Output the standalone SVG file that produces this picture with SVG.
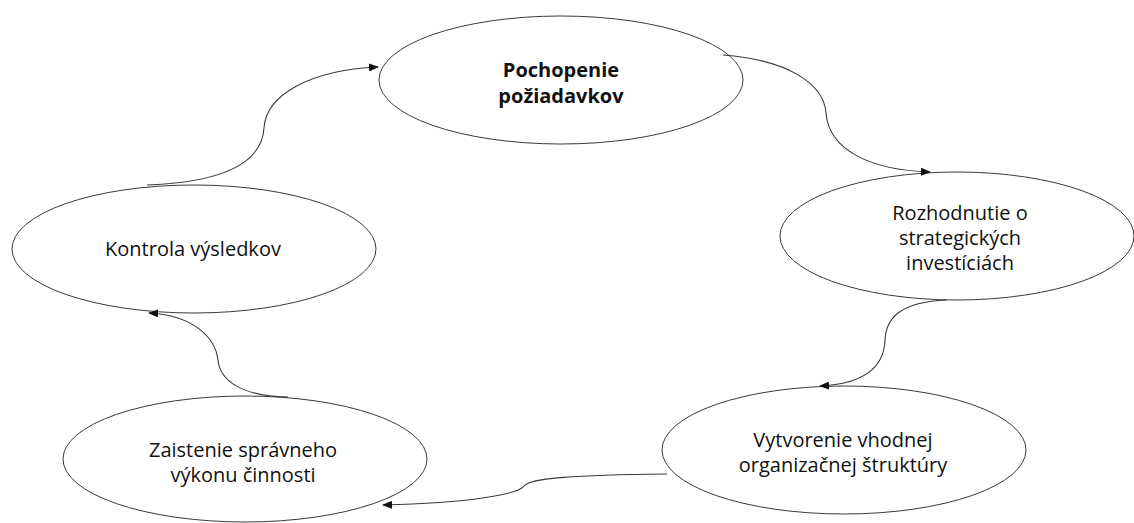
<svg xmlns="http://www.w3.org/2000/svg" width="1134" height="523" viewBox="0 0 1134 523">
<style>
.node ellipse{fill:#fff;stroke:#3a3a3a;stroke-width:1}
.node text{font-family:"Open Sans","Liberation Sans",sans-serif;font-size:20px;fill:#111;text-anchor:middle}
.node text.b{font-weight:bold}
#connectors path{fill:none;stroke:#3a3a3a;stroke-width:1.1;marker-end:url(#arr)}
</style>
<defs>
<marker id="arr" markerUnits="userSpaceOnUse" markerWidth="10" markerHeight="8" refX="9" refY="4" orient="auto">
<path d="M0,0 L10,4 L0,8 Z" fill="#111"/>
</marker>
</defs>
<rect width="1134" height="523" fill="#fff"/>
<g id="n1" class="node">
<ellipse cx="561" cy="80" rx="182" ry="64"/>
<text class="b" x="561" y="77">Pochopenie</text>
<text class="b" x="561" y="103">požiadavkov</text>
</g>
<g id="n2" class="node">
<ellipse cx="957" cy="236" rx="177" ry="64"/>
<text x="960" y="220">Rozhodnutie o</text>
<text x="960" y="245">strategických</text>
<text x="960" y="270">investíciách</text>
</g>
<g id="n3" class="node">
<ellipse cx="844" cy="450" rx="182" ry="64"/>
<text x="843" y="447">Vytvorenie vhodnej</text>
<text x="843" y="472">organizačnej štruktúry</text>
</g>
<g id="n4" class="node">
<ellipse cx="245" cy="459" rx="182" ry="63"/>
<text x="243" y="457">Zaistenie správneho</text>
<text x="243" y="482">výkonu činnosti</text>
</g>
<g id="n5" class="node">
<ellipse cx="194" cy="249" rx="182" ry="64"/>
<text x="193" y="256">Kontrola výsledkov</text>
</g>
<g id="connectors">
<path d="M147,185 C230,182 262,160 264,128 C266,95 310,70 378,67"/>
<path d="M723,55 C790,60 824,85 826,113 C829,150 870,170 930,172"/>
<path d="M947,300 C900,302 886,318 885,340 C884,370 860,384 820,386"/>
<path d="M667,474 C575,475 530,478 524,486 C519,494 470,503 383,505"/>
<path d="M288,397 C240,396 220,380 218,360 C215,335 190,315 149,313"/>
</g>
</svg>
